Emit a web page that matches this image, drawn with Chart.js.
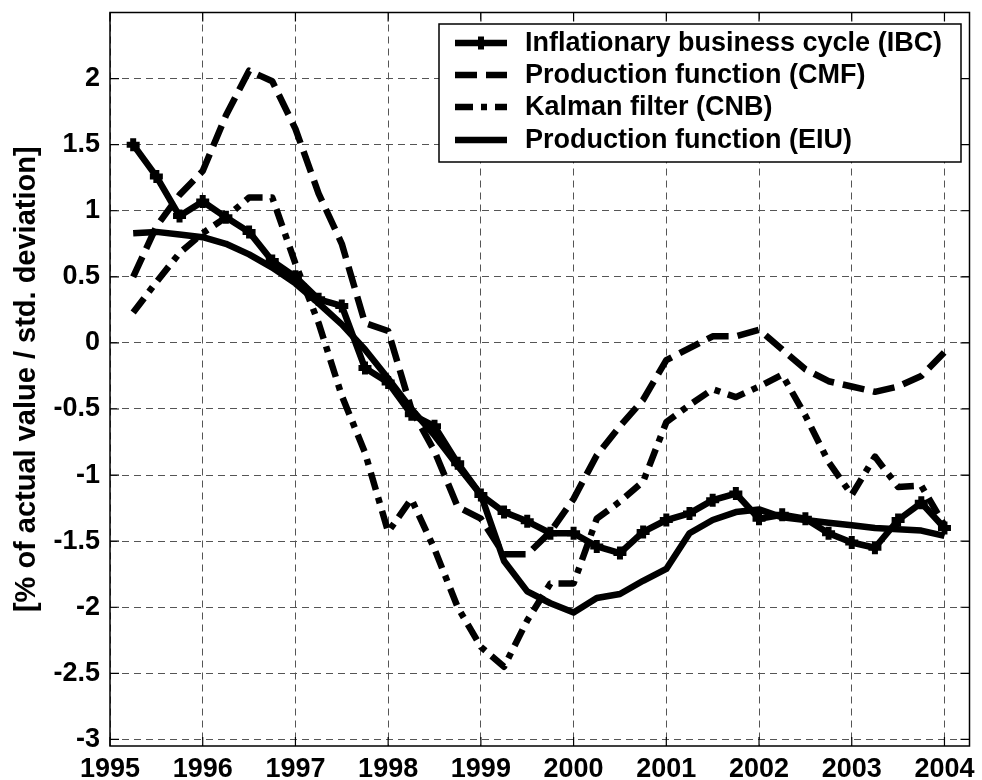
<!DOCTYPE html>
<html>
<head>
<meta charset="utf-8">
<script src="https://cdn.jsdelivr.net/npm/chart.js@4.4.1/dist/chart.umd.min.js"></script>
<style>
  html, body { margin: 0; padding: 0; background: #fff; }
</style>
</head>
<body>
<canvas id="gapChart" width="982" height="780"></canvas>
<script>
// quarterly observations, 1995 Q2 .. 2004 Q1
const quarters = [
    1995.25, 1995.5, 1995.75, 1996, 1996.25, 1996.5, 1996.75, 1997, 1997.25, 1997.5, 1997.75, 1998,
    1998.25, 1998.5, 1998.75, 1999, 1999.25, 1999.5, 1999.75, 2000, 2000.25, 2000.5, 2000.75, 2001,
    2001.25, 2001.5, 2001.75, 2002, 2002.25, 2002.5, 2002.75, 2003, 2003.25, 2003.5, 2003.75, 2004
];

const seriesNames = [
    'Inflationary business cycle (IBC)',
    'Production function (CMF)',
    'Kalman filter (CNB)',
    'Production function (EIU)'
];

const ibc = [
    1.5, 1.26, 0.96, 1.07, 0.95, 0.84, 0.62, 0.5, 0.33, 0.28, -0.19, -0.3,
    -0.54, -0.63, -0.91, -1.15, -1.28, -1.35, -1.44, -1.44, -1.54, -1.59, -1.43, -1.34,
    -1.29, -1.19, -1.14, -1.33, -1.3, -1.33, -1.44, -1.51, -1.55, -1.34, -1.21, -1.4
];
const cmf = [
    0.5, 0.88, 1.12, 1.3, 1.72, 2.06, 1.98, 1.62, 1.13, 0.75, 0.15, 0.09,
    -0.5, -0.82, -1.24, -1.33, -1.6, -1.6, -1.43, -1.18, -0.85, -0.63, -0.43, -0.13,
    -0.04, 0.05, 0.05, 0.1, -0.05, -0.2, -0.29, -0.33, -0.37, -0.33, -0.25, -0.07
];
const cnb = [
    0.23, 0.46, 0.68, 0.83, 0.95, 1.1, 1.1, 0.6, 0.15, -0.4, -0.83, -1.43,
    -1.18, -1.56, -2.0, -2.3, -2.45, -2.1, -1.82, -1.82, -1.33, -1.2, -1.05, -0.6,
    -0.47, -0.35, -0.41, -0.33, -0.24, -0.55, -0.9, -1.15, -0.86, -1.09, -1.08, -1.38
];
const eiu = [
    0.83, 0.84, 0.82, 0.8, 0.75, 0.67, 0.57, 0.45, 0.3, 0.14, -0.05, -0.27,
    -0.5, -0.7, -0.93, -1.15, -1.65, -1.88, -1.97, -2.04, -1.93, -1.9, -1.8, -1.71,
    -1.44, -1.34, -1.28, -1.26, -1.32, -1.34, -1.36, -1.38, -1.4, -1.41, -1.42, -1.46
];

const yearTicks = [1995, 1996, 1997, 1998, 1999, 2000, 2001, 2002, 2003, 2004];
const valueTicks = [-3, -2.5, -2, -1.5, -1, -0.5, 0, 0.5, 1, 1.5, 2];

const FONT = '"Liberation Sans", Arial, Helvetica, sans-serif';
const LINE_W = 6.5;

function toPoints(values) {
    return values.map((v, i) => ({ x: quarters[i], y: v }));
}

// no automatic label padding, the plot box is fixed
function noPad(scale) {
    scale.paddingTop = 0;
    scale.paddingBottom = 0;
    scale.paddingLeft = 0;
    scale.paddingRight = 0;
}

// box round the plot plus the small inward tick marks
const frame = {
    id: 'frame',
    afterDatasetsDraw(chart) {
        const { ctx, chartArea: a, scales } = chart;
        ctx.save();
        ctx.strokeStyle = '#000';
        ctx.lineWidth = 1.5;
        ctx.setLineDash([]);
        ctx.strokeRect(a.left, a.top, a.right - a.left, a.bottom - a.top);
        ctx.lineWidth = 1.2;
        ctx.beginPath();
        yearTicks.forEach(t => {
            const x = scales.x.getPixelForValue(t);
            ctx.moveTo(x, a.bottom); ctx.lineTo(x, a.bottom - 9);
            ctx.moveTo(x, a.top); ctx.lineTo(x, a.top + 9);
        });
        valueTicks.forEach(t => {
            const y = scales.y.getPixelForValue(t);
            ctx.moveTo(a.left, y); ctx.lineTo(a.left + 9, y);
            ctx.moveTo(a.right, y); ctx.lineTo(a.right - 9, y);
        });
        ctx.stroke();
        ctx.restore();
    }
};

// matlab style legend box in the top right corner
const boxLegend = {
    id: 'boxLegend',
    afterDraw(chart) {
        const { ctx } = chart;
        const left = 439, top = 24, right = 961, bottom = 162;
        ctx.save();
        ctx.fillStyle = '#fff';
        ctx.fillRect(left, top, right - left, bottom - top);
        ctx.strokeStyle = '#000';
        ctx.lineWidth = 1.5;
        ctx.strokeRect(left, top, right - left, bottom - top);

        const rowY = [43, 75, 107, 140];
        chart.data.datasets.forEach((ds, i) => {
            const y = rowY[i];
            ctx.save();
            ctx.strokeStyle = '#000';
            ctx.lineWidth = ds.borderWidth;
            ctx.lineCap = 'butt';
            ctx.setLineDash(ds.borderDash || []);
            ctx.beginPath();
            ctx.moveTo(455, y);
            ctx.lineTo(507, y);
            ctx.stroke();
            ctx.restore();
            if (ds.pointRadius > 0) {
                ctx.save();
                ctx.lineWidth = ds.pointBorderWidth;
                ctx.beginPath();
                ctx.moveTo(481, y - ds.pointRadius);
                ctx.lineTo(481, y + ds.pointRadius);
                ctx.stroke();
                ctx.restore();
            }
            ctx.fillStyle = '#000';
            ctx.font = 'bold 27px ' + FONT;
            ctx.textAlign = 'left';
            ctx.textBaseline = 'middle';
            ctx.fillText(ds.label, 525, y + 1);
        });
        ctx.restore();
    }
};

const lineBase = {
    borderColor: '#000',
    backgroundColor: '#000',
    borderWidth: LINE_W,
    borderJoinStyle: 'round',
    fill: false,
    tension: 0,
    pointRadius: 0
};

new Chart(document.getElementById('gapChart'), {
    type: 'line',
    data: {
        datasets: [
            Object.assign({}, lineBase, {
                label: seriesNames[0],
                data: toPoints(ibc),
                pointStyle: 'cross',
                pointRadius: 6.5,
                pointBorderWidth: 6,
                pointBorderColor: '#000'
            }),
            Object.assign({}, lineBase, {
                label: seriesNames[1],
                data: toPoints(cmf),
                borderDash: [22, 9]
            }),
            Object.assign({}, lineBase, {
                label: seriesNames[2],
                data: toPoints(cnb),
                borderDash: [18, 8, 6, 8]
            }),
            Object.assign({}, lineBase, {
                label: seriesNames[3],
                data: toPoints(eiu)
            })
        ]
    },
    options: {
        responsive: false,
        animation: false,
        layout: { padding: { top: 9, right: 4, left: 0, bottom: 0 } },
        plugins: {
            legend: { display: false },
            tooltip: { enabled: false }
        },
        scales: {
            x: {
                type: 'linear',
                min: 1995,
                max: 2004.27,
                afterBuildTicks: scale => { scale.ticks = yearTicks.map(v => ({ value: v })); },
                afterFit: scale => { scale.height = 34; noPad(scale); },
                ticks: {
                    color: '#000',
                    font: { family: FONT, size: 27, weight: 'bold' },
                    padding: 7,
                    maxRotation: 0,
                    callback: v => String(v)
                },
                grid: { color: '#555', lineWidth: 1, drawTicks: false },
                border: { display: false, dash: [7, 5] }
            },
            y: {
                min: -3.05,
                max: 2.5,
                afterBuildTicks: scale => { scale.ticks = valueTicks.map(v => ({ value: v })); },
                afterFit: scale => { scale.width = 110; noPad(scale); },
                ticks: {
                    color: '#000',
                    font: { family: FONT, size: 27, weight: 'bold' },
                    padding: 10,
                    callback: v => String(v)
                },
                grid: { color: '#555', lineWidth: 1, drawTicks: false },
                border: { display: false, dash: [7, 5] },
                title: {
                    display: true,
                    text: '[% of actual value / std. deviation]',
                    color: '#000',
                    font: { family: FONT, size: 29, weight: 'bold' },
                    padding: { top: 10, bottom: 0 }
                }
            }
        }
    },
    plugins: [frame, boxLegend]
});
</script>
</body>
</html>
